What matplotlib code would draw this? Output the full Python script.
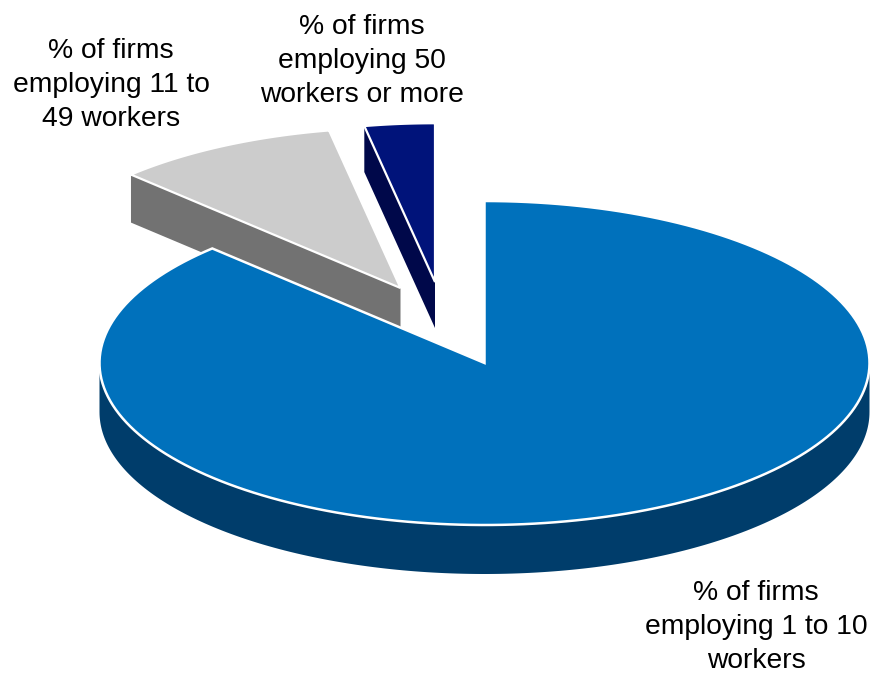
#!/usr/bin/env python3
"""Exploded 3D-look pie of firm sizes, drawn from patches."""

import matplotlib
matplotlib.use('Agg')
import matplotlib.pyplot as plt
import numpy as np
from matplotlib.patches import Polygon

plt.rcParams['font.family'] = ['Liberation Sans', 'DejaVu Sans']

labels = ['% of firms\nemploying 1 to 10\nworkers',
          '% of firms\nemploying 11 to\n49 workers',
          '% of firms\nemploying 50\nworkers or more']
shares = [87.5, 9.5, 3.0]
top_colors = ['#0071BC', '#CCCCCC', '#00137A']
side_colors = ['#003D6B', '#727272', '#00084A']

CX, CY = 484.5, 363
RX, RY = 385, 162
SCALES = [1.0, 0.99, 0.98]
DEPTHS = [49, 48, 46]
OFFSETS = [(0, 0), (-84, -75), (-49.5, -81)]
LABEL_POS = [(756, 625), (111, 83), (362, 59)]


def rim(a0, a1, ox, oy, scale=1.0, n=200):
    # angles clockwise from 12 o'clock, in degrees
    t = np.radians(np.linspace(a0, a1, n))
    return np.column_stack([CX + ox + scale * RX * np.sin(t),
                            CY + oy - scale * RY * np.cos(t)])


fig = plt.figure(figsize=(8.71, 6.73), dpi=100)
ax = fig.add_axes([0, 0, 1, 1])
ax.set_xlim(0, 871)
ax.set_ylim(673, 0)
ax.axis('off')

edges = np.cumsum([0] + shares) * 3.6

# main slice wall first
ox, oy = OFFSETS[0]
front = rim(90, 270, ox, oy)
wall = np.vstack([front, (front + [0, DEPTHS[0]])[::-1]])
ax.add_patch(Polygon(wall, closed=True, fc=side_colors[0], ec='none', zorder=1))

# small slices: the cut face towards the viewer, then the top
for i in (1, 2):
    ox, oy = OFFSETS[i]
    tip = np.array([CX + ox, CY + oy])
    r = rim(edges[i], edges[i + 1], ox, oy, SCALES[i])
    cut = np.array([r[0], tip, tip + [0, DEPTHS[i]], r[0] + [0, DEPTHS[i]]])
    ax.add_patch(Polygon(cut, closed=True, fc=side_colors[i], ec='none', zorder=2))
    ax.add_patch(Polygon(np.vstack([tip, r]), closed=True, fc=top_colors[i],
                         ec='white', lw=1.6, zorder=3))

# main top face sits over the grey wall
ox, oy = OFFSETS[0]
top = np.vstack([[CX + ox, CY + oy], rim(edges[0], edges[1], ox, oy)])
ax.add_patch(Polygon(top, closed=True, fc=top_colors[0], ec='white', lw=1.8, zorder=4))

for (x, y), s in zip(LABEL_POS, labels):
    ax.text(x, y + 2, s, ha='center', va='center', fontsize=20.3, color='black',
            linespacing=1.4, zorder=5)

fig.savefig('out.png', dpi=100)
